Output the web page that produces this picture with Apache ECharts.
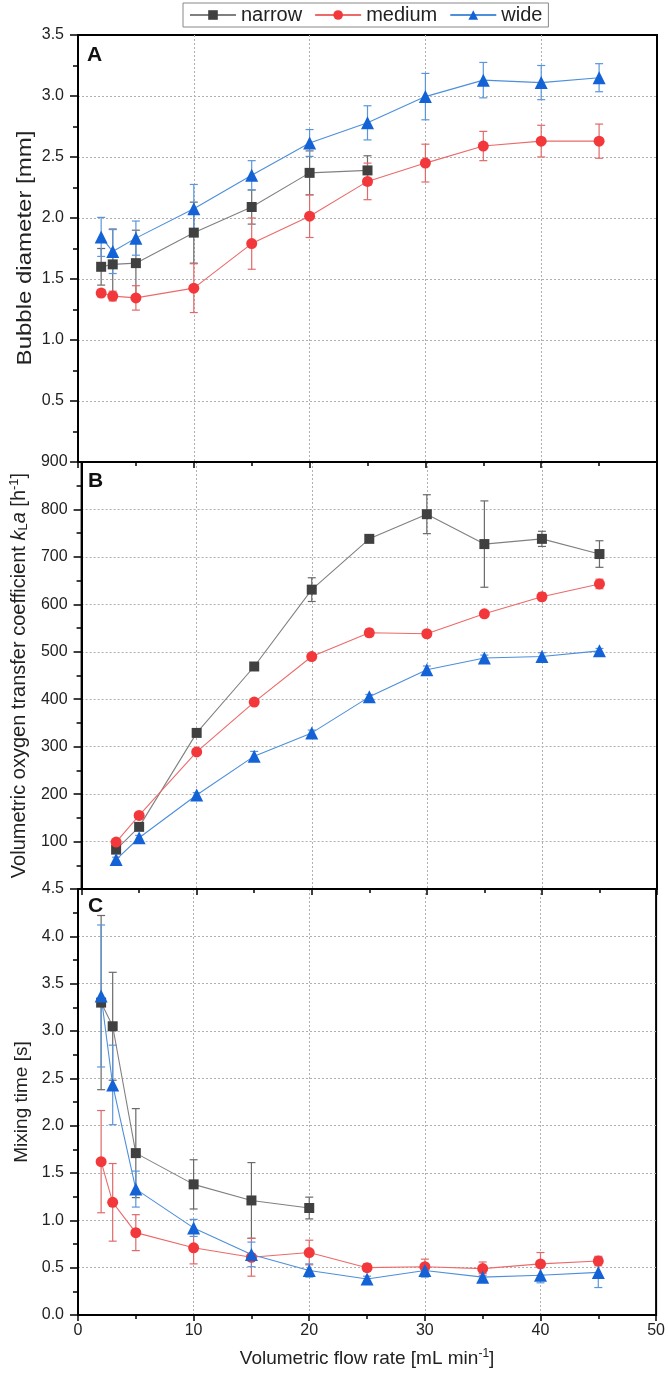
<!DOCTYPE html>
<html><head><meta charset="utf-8">
<script src="https://cdn.jsdelivr.net/npm/echarts@6/dist/echarts.min.js"></script>
<style>html,body{margin:0;padding:0;background:#fff}#c{width:668px;height:1379px}</style>
</head><body><div id="c"></div>
<script>
// ---- data ----
const flowA = [2, 3, 5, 10, 15, 20, 25, 30, 35, 40, 45];
const flowB = [3, 5, 10, 15, 20, 25, 30, 35, 40, 45];
const seriesNames = ['narrow', 'medium', 'wide'];

// Panel A: bubble diameter [mm]
const narrowA    = [1.60, 1.62, 1.63, 1.88, 2.09, 2.37, 2.39, null, null, null, null];
const narrowAErr = [0.15, 0.29, 0.27, 0.25, 0.14, 0.18, 0.12, null, null, null, null];
const mediumA    = [1.385, 1.36, 1.345, 1.425, 1.79, 2.015, 2.30, 2.45, 2.59, 2.63, 2.63];
const mediumAErr = [0.03, 0.04, 0.10, 0.20, 0.21, 0.175, 0.15, 0.155, 0.12, 0.13, 0.14];
const wideA      = [1.845, 1.725, 1.835, 2.075, 2.35, 2.615, 2.78, 2.995, 3.13, 3.11, 3.15];
const wideAErr   = [0.16, 0.18, 0.14, 0.20, 0.12, 0.11, 0.14, 0.19, 0.145, 0.14, 0.115];

// Panel B: kLa [h-1]
const narrowB    = [83, 131, 329, 469, 631, 738, 790, 727, 738, 706];
const narrowBErr = [5, 6, 5, 6, 25, 6, 41, 91, 16, 28];
const mediumB    = [99, 155, 289, 394, 490, 540, 538, 580, 616, 643];
const mediumBErr = [5, 5, 5, 5, 6, 8, 6, 6, 8, 10];
const wideB      = [62, 108, 198, 280, 329, 405, 462, 487, 490, 502];
const wideBErr   = [5, 5, 5, 10, 6, 5, 8, 6, 8, 5];

// Panel C: mixing time [s]
const narrowC    = [3.30, 3.05, 1.71, 1.38, 1.21, 1.13, null, null, null, null, null];
const narrowCErr = [0.92, 0.57, 0.47, 0.26, 0.40, 0.115, null, null, null, null, null];
const mediumC    = [1.62, 1.19, 0.87, 0.71, 0.61, 0.66, 0.50, 0.51, 0.49, 0.54, 0.57];
const mediumCErr = [0.54, 0.41, 0.19, 0.17, 0.20, 0.13, 0.04, 0.08, 0.07, 0.12, 0.05];
const wideC      = [3.37, 2.43, 1.33, 0.92, 0.64, 0.47, 0.38, 0.47, 0.40, 0.42, 0.45];
const wideCErr   = [0.75, 0.42, 0.19, 0.09, 0.13, 0.07, 0.03, 0.07, 0.04, 0.08, 0.16];

// ---- styles ----
const markerColor = {narrow: '#404040', medium: '#f2383a', wide: '#1463d6'};
const lineColor   = {narrow: '#808080', medium: '#ec6a6a', wide: '#4d8fdb'};
const errColor    = {narrow: '#6a6a6a', medium: '#e06a6a', wide: '#5b96dc'};
const symbolOf    = {narrow: 'rect', medium: 'circle', wide: 'triangle'};
const symbolSize  = {narrow: 10, medium: 11, wide: 13};
const FONT = '"Liberation Sans", Arial, sans-serif';

const grids = [
  {left: 78, right: 11, top: 35, height: 427},
  {left: 78, right: 11, top: 462, height: 427},
  {left: 78, right: 11, top: 889, height: 426}
].map(g => Object.assign(g, {show: true, borderColor: '#000', borderWidth: 2, backgroundColor: 'transparent'}));

const gridLine = {show: true, showMinLine: false, showMaxLine: false,
  lineStyle: {color: '#b0b0b0', type: [2, 2], width: 1}};

function xAxisFor(i) {
  return {
    type: 'value', gridIndex: i, min: 0, max: 50, interval: 10,
    axisLine: {show: true, lineStyle: {color: '#000', width: 2}},
    axisTick: {show: true, length: 6, lineStyle: {color: '#000', width: 1.5}},
    minorTick: {show: true, splitNumber: 2, length: 4, lineStyle: {color: '#000', width: 1.5}},
    axisLabel: {show: i === 2, fontSize: 16, color: '#222', fontFamily: FONT, margin: 8},
    splitLine: gridLine,
    name: i === 2 ? 'Volumetric flow rate [mL min{sup|-1}]' : '',
    nameLocation: 'middle', nameGap: 33,
    nameTextStyle: {fontSize: 19, color: '#222', fontFamily: FONT,
      rich: {sup: {fontSize: 12, verticalAlign: 'top', padding: [0, 0, 9, 0], fontFamily: FONT, color: '#222'}}}
  };
}
function yAxisFor(i, max, interval, fmt, name, fontSize, rich) {
  return {
    type: 'value', gridIndex: i, min: 0, max: max, interval: interval,
    axisLine: {show: true, lineStyle: {color: '#000', width: 2}},
    axisTick: {show: true, length: 8, lineStyle: {color: '#000', width: 1.5}},
    minorTick: {show: true, splitNumber: 2, length: 5, lineStyle: {color: '#000', width: 1.5}},
    axisLabel: {fontSize: 16, color: '#222', fontFamily: FONT, margin: 14, formatter: fmt},
    splitLine: gridLine,
    name: name, nameLocation: 'middle', nameRotate: 90, nameGap: 40,
    nameTextStyle: Object.assign({fontSize: fontSize, color: '#222', fontFamily: FONT}, rich ? {rich: rich} : {})
  };
}

const kLaRich = {
  n: {fontSize: 20, fontFamily: FONT, color: '#222'},
  i: {fontSize: 20, fontFamily: FONT, fontStyle: 'italic', color: '#222'},
  sub: {fontSize: 13, fontFamily: FONT, color: '#222', verticalAlign: 'bottom', padding: [9, 0, 0, 0]},
  sup: {fontSize: 13, fontFamily: FONT, color: '#222', verticalAlign: 'top', padding: [0, 0, 9, 0]}
};

function toPairs(xs, ys) { return xs.map((x, k) => [x, ys[k]]); }
function toErr(xs, ys, es) {
  const out = [];
  xs.forEach((x, k) => { if (ys[k] != null && es[k] != null) out.push([x, ys[k] - es[k], ys[k] + es[k]]); });
  return out;
}
function errRender(color) {
  return function (params, api) {
    const x = api.value(0), lo = api.value(1), hi = api.value(2);
    const p1 = api.coord([x, hi]), p2 = api.coord([x, lo]);
    const w = 4;
    const st = {stroke: color, lineWidth: 1.2};
    return {type: 'group', children: [
      {type: 'line', shape: {x1: p1[0], y1: p1[1], x2: p2[0], y2: p2[1]}, style: st},
      {type: 'line', shape: {x1: p1[0] - w, y1: p1[1], x2: p1[0] + w, y2: p1[1]}, style: st},
      {type: 'line', shape: {x1: p2[0] - w, y1: p2[1], x2: p2[0] + w, y2: p2[1]}, style: st}
    ]};
  };
}

const panels = [
  {xs: flowA, data: {narrow: [narrowA, narrowAErr], medium: [mediumA, mediumAErr], wide: [wideA, wideAErr]}},
  {xs: flowB, data: {narrow: [narrowB, narrowBErr], medium: [mediumB, mediumBErr], wide: [wideB, wideBErr]}},
  {xs: flowA, data: {narrow: [narrowC, narrowCErr], medium: [mediumC, mediumCErr], wide: [wideC, wideCErr]}}
];

const series = [];
panels.forEach((p, i) => {
  seriesNames.forEach(nm => {
    const [ys, es] = p.data[nm];
    series.push({
      type: 'custom', name: nm + ' err', xAxisIndex: i, yAxisIndex: i, z: 1,
      renderItem: errRender(errColor[nm]), data: toErr(p.xs, ys, es),
      encode: {x: 0, y: [1, 2]}, silent: true
    });
  });
  seriesNames.forEach(nm => {
    const [ys] = p.data[nm];
    series.push({
      type: 'line', name: nm, xAxisIndex: i, yAxisIndex: i, z: 3,
      data: toPairs(p.xs, ys), symbol: symbolOf[nm], symbolSize: symbolSize[nm],
      itemStyle: {color: markerColor[nm]},
      lineStyle: {color: lineColor[nm], width: 1.1},
      animation: false
    });
  });
});

const chart = echarts.init(document.getElementById('c'), null, {renderer: 'canvas'});
chart.setOption({
  animation: false,
  backgroundColor: '#fff',
  grid: grids,
  xAxis: [xAxisFor(0), xAxisFor(1), xAxisFor(2)],
  yAxis: [
    yAxisFor(0, 3.5, 0.5, v => v === 0 ? '' : v.toFixed(1), '', 20),
    yAxisFor(1, 900, 100, v => v === 0 ? '' : String(v),
      '{n|Volumetric oxygen transfer coefficient }{i|k}{sub|L}{i|a}{n| [h}{sup|-1}{n|]}', 20, kLaRich),
    yAxisFor(2, 4.5, 0.5, v => v.toFixed(1), 'Mixing time [s]', 19)
  ],
  legend: {
    data: seriesNames, left: 183, top: 3, itemWidth: 46, itemHeight: 12, itemGap: 12,
    borderColor: '#888', borderWidth: 1, padding: [2, 6], backgroundColor: '#fff',
    textStyle: {fontSize: 20, color: '#222', fontFamily: FONT}
  },
  graphic: [
    {type: 'text', x: 25, y: 248, rotation: Math.PI / 2, scaleX: 1.2, scaleY: 1,
      style: {text: 'Bubble diameter [mm]', font: '20px ' + FONT, fill: '#222', align: 'center', verticalAlign: 'middle'}},
    {type: 'text', left: 87, top: 45, style: {text: 'A', font: 'bold 21px ' + FONT, fill: '#111'}},
    {type: 'text', left: 88, top: 471, style: {text: 'B', font: 'bold 21px ' + FONT, fill: '#111'}},
    {type: 'text', left: 88, top: 896, style: {text: 'C', font: 'bold 21px ' + FONT, fill: '#111'}}
  ],
  series: series
});
</script></body></html>
